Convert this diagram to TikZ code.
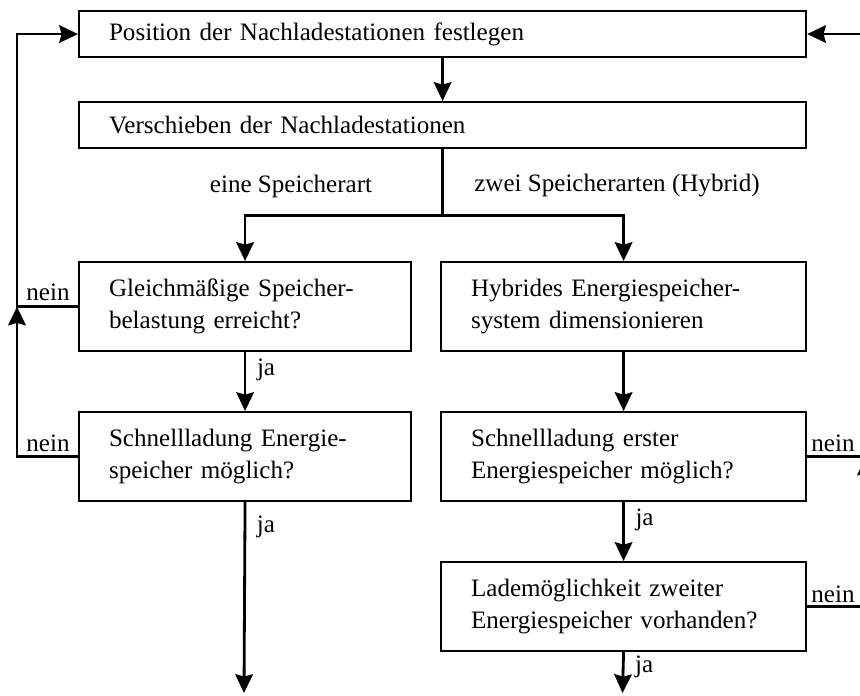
\documentclass[tikz,border=0pt]{standalone}
\usepackage{fontspec}
\setmainfont{Liberation Serif}
\usetikzlibrary{arrows.meta}
\newcommand{\boxline}[1]{\mbox{#1}}

\begin{document}
\begin{tikzpicture}[x=0.015cm, y=-0.015cm,
    >={Stealth[length=8pt, width=7.5pt, inset=1pt]},
    every node/.style={font=\fontsize{10.7}{13.7}\selectfont},
    box/.style={draw, line width=0.9pt, anchor=north west, align=left, inner xsep=0.45cm, inner ysep=0pt},
    widebox/.style={box, text width=10.005cm, minimum height=0.69cm},
    leftbox/.style={box, text width=4.08cm, minimum height=1.335cm},
    rightbox/.style={box, text width=4.575cm, minimum height=1.335cm},
    lbl/.style={inner sep=1pt},
    jalbl/.style={lbl, right, xshift=3.5pt}]
    \useasboundingbox (0,0) rectangle (860,695);
    % boxes
    \node (pos) [widebox] at (78,10) {Position der Nachladestationen festlegen};
    \node (versch) [widebox] at (78,101) {Verschieben der Nachladestationen};
    \node (gleich) [leftbox] at (78,261) {\boxline{Gleichmäßige Speicher-}\\\boxline{belastung erreicht?}};
    \node (hybrid) [rightbox] at (440,261) {\boxline{Hybrides Energiespeicher-}\\\boxline{system dimensionieren}};
    \node (schnellL) [leftbox] at (78,411) {\boxline{Schnellladung Energie-}\\\boxline{speicher möglich?}};
    \node (schnellR) [rightbox] at (440,411) {\boxline{Schnellladung erster}\\\boxline{Energiespeicher möglich?}};
    \node (lade) [rightbox] at (440,561) {\boxline{Lademöglichkeit zweiter}\\\boxline{Energiespeicher vorhanden?}};
    \coordinate (backL) at (17,0);
    \coordinate (backR) at (866,0);
    \coordinate (endL) at (244,693);
    \coordinate (endR) at (622.5,693);
    % main flow
    \draw[->, very thick] (pos.south) -- (versch.north);
    \draw[very thick] (versch.south) -- ++(0,66) coordinate (split);
    \draw[->, very thick] (split) -| (gleich.north);
    \draw[->, very thick] (split) -| (hybrid.north);
    \node (eine) [lbl] at (291,186) {eine Speicherart};
    \node (zwei) [lbl] at (617,186) {zwei Speicherarten (Hybrid)};
    \draw[->, very thick] (gleich.south) -- node[jalbl, pos=0.3] {ja} (schnellL.north);
    \draw[->, very thick] (hybrid.south) -- (schnellR.north);
    \draw[->, very thick] (schnellL.south) -- node[jalbl, pos=0.13] {ja} (endL);
    \draw[->, very thick] (schnellR.south) -- node[jalbl, pos=0.3] {ja} (lade.north);
    \draw[->, very thick] (lade.south) -- node[jalbl, pos=0.35] {ja} (endR);
    % feedback left
    \draw[->, very thick] (schnellL.west) -| (backL |- gleich.west);
    \draw[->, very thick] (gleich.west) -| (backL |- pos.west) -- (pos.west);
    \node (neinA) [lbl, anchor=south] at (48,304) {nein};
    \node (neinB) [lbl, anchor=south] at (48,455) {nein};
    % feedback right
    \draw[->, very thick] (lade.east) -| (backR |- schnellR.east);
    \draw[->, very thick] (schnellR.east) -| (backR |- pos.east) -- (pos.east);
    \node (neinC) [lbl, anchor=south] at (833,455) {nein};
    \node (neinD) [lbl, anchor=south] at (833,606) {nein};
\end{tikzpicture}
\end{document}
